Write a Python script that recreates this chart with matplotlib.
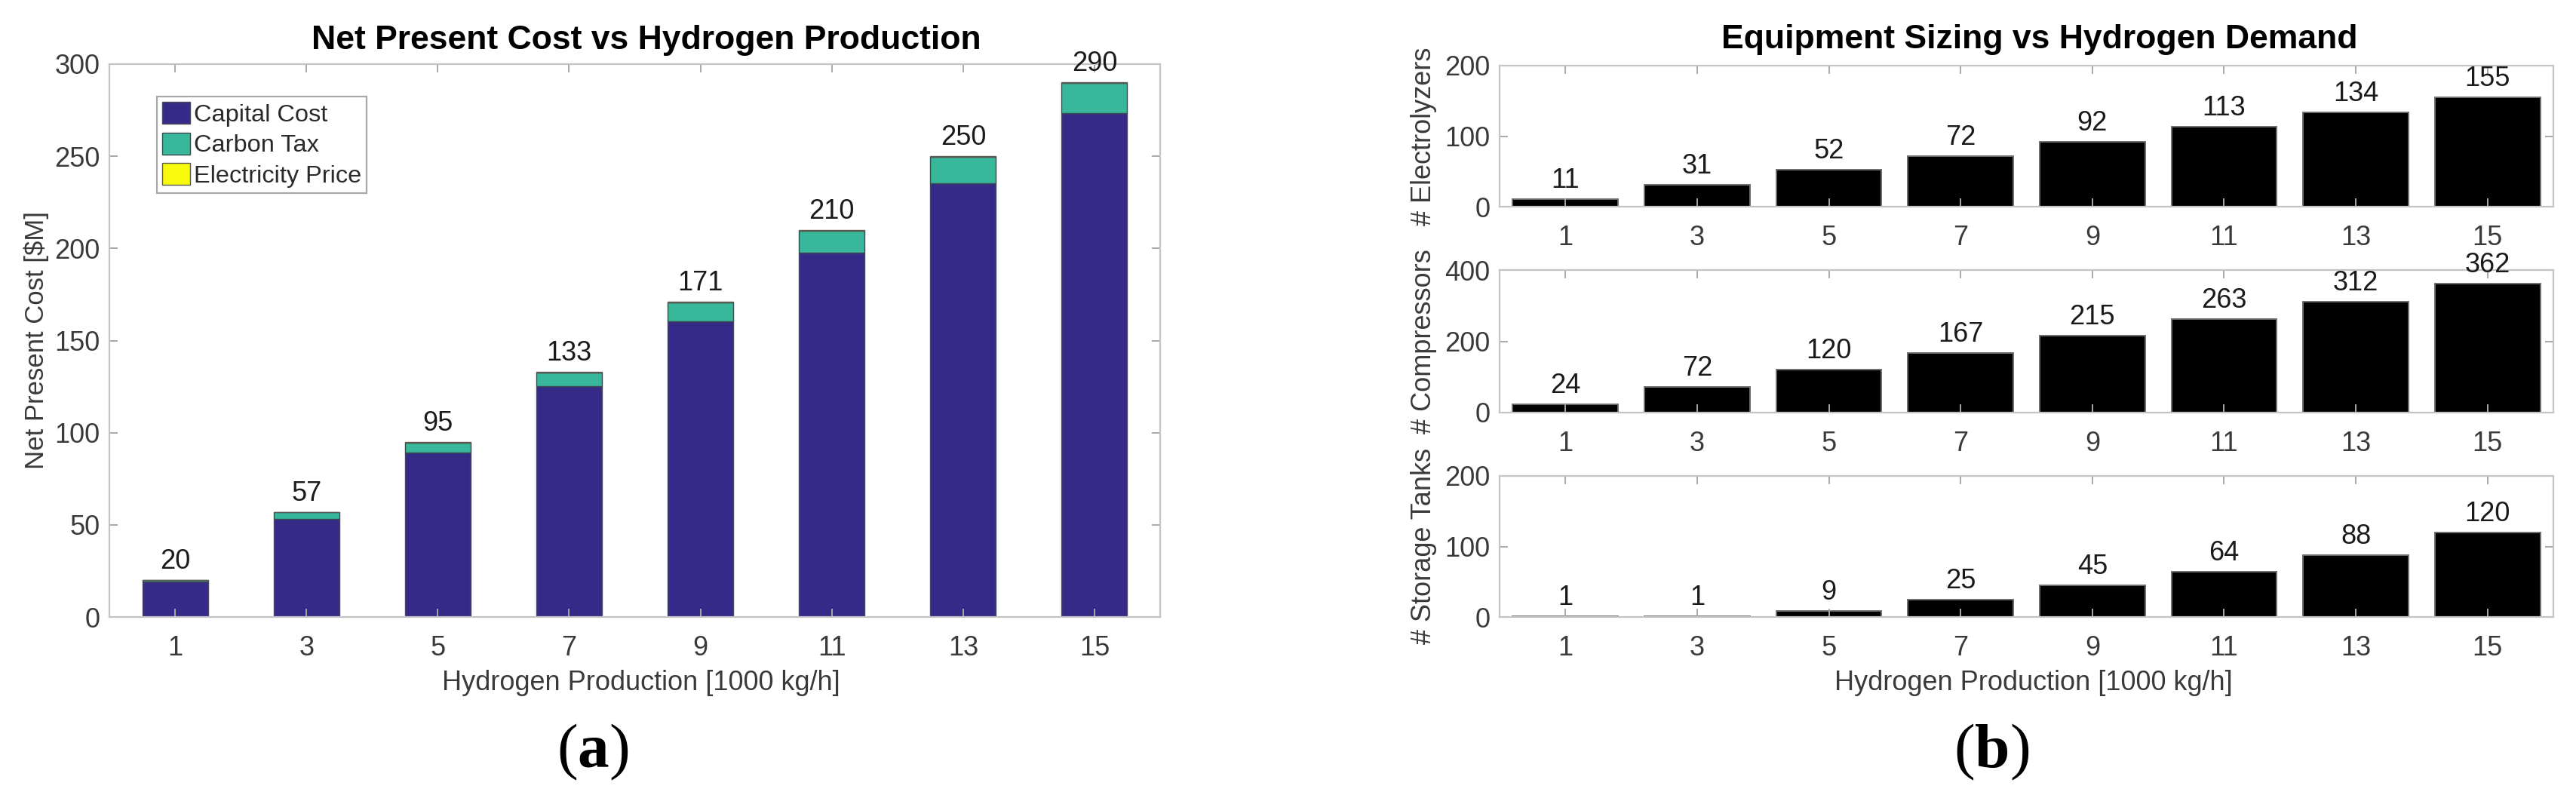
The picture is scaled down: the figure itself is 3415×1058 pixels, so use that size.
import matplotlib
matplotlib.use('Agg')
import matplotlib.pyplot as plt

plt.rcParams['font.family'] = ['Liberation Sans', 'DejaVu Sans']
plt.rcParams['mathtext.fontset'] = 'custom'
plt.rcParams['mathtext.rm'] = 'Liberation Serif'
plt.rcParams['mathtext.bf'] = 'Liberation Serif:bold'

###############
# DATA
###############
production = [1, 3, 5, 7, 9, 11, 13, 15]

# panel (a): stacked net present cost [$M]
capital_cost = [19.2, 53.2, 89.3, 125.2, 160.5, 197.8, 235.3, 273.6]
carbon_tax = [0.8, 3.6, 5.4, 7.5, 10.2, 11.8, 14.4, 16.2]
electricity_price = [0.1, 0.2, 0.3, 0.3, 0.3, 0.4, 0.3, 0.2]
npc_totals = [20, 57, 95, 133, 171, 210, 250, 290]

# panel (b): equipment counts
electrolyzers = [11, 31, 52, 72, 92, 113, 134, 155]
compressors = [24, 72, 120, 167, 215, 263, 312, 362]
storage_tanks = [1, 1, 9, 25, 45, 64, 88, 120]

c_capital = '#352a87'
c_carbon = '#38b79b'
c_elec = '#f9fb0e'
box_col = '#c4c4c4'
txt_col = '#3a3a3a'
FS = 26

W, H = 3415, 1058
fig = plt.figure(figsize=(W / 100, H / 100), dpi=100)


def px_axes(left, right, top, bottom):
    return fig.add_axes([left / W, 1 - bottom / H, (right - left) / W, (bottom - top) / H])


def style_axes(ax, yticks):
    ax.set_xlim(0, 16)
    ax.set_ylim(yticks[0], yticks[-1])
    ax.set_xticks(production)
    ax.set_yticks(yticks)
    for s in ax.spines.values():
        s.set_color(box_col)
        s.set_linewidth(1.6)
    ax.tick_params(direction='in', length=8, width=1.4, color='#a8a8a8',
                   top=True, right=True, labelsize=FS, labelcolor=txt_col)
    ax.tick_params(axis='x', pad=17)
    ax.tick_params(axis='y', pad=9)


############################
# (a) NET PRESENT COST
############################
ax = px_axes(145, 1538, 85, 818)
b1 = ax.bar(production, capital_cost, width=1.0, color=c_capital,
            edgecolor='#4a4a5a', linewidth=1.0, label='Capital Cost')
bottom2 = [c for c in capital_cost]
b2 = ax.bar(production, carbon_tax, width=1.0, bottom=bottom2, color=c_carbon,
            edgecolor='#3a4a50', linewidth=1.0, label='Carbon Tax')
bottom3 = [c + t for c, t in zip(capital_cost, carbon_tax)]
b3 = ax.bar(production, electricity_price, width=1.0, bottom=bottom3, color=c_elec,
            edgecolor='#5a5a50', linewidth=1.0, label='Electricity Price')
ax.bar_label(b3, labels=[str(v) for v in npc_totals], padding=5, fontsize=FS, color='#1a1a1a')
style_axes(ax, [0, 50, 100, 150, 200, 250, 300])
ax.set_title('Net Present Cost vs Hydrogen Production', fontsize=32, fontweight='bold',
             x=0.511, y=1.027, pad=0, va='baseline')
ax.set_xlabel('Hydrogen Production [1000 kg/h]', fontsize=FS, color=txt_col)
ax.xaxis.set_label_coords(0.506, -0.119)
ax.xaxis.label.set_va('center')
ax.set_ylabel('Net Present Cost [$M]', fontsize=25, color=txt_col)
ax.yaxis.set_label_coords(-0.0696, 0.5)
ax.yaxis.label.set_va('center')
leg = ax.legend(loc='upper left', bbox_to_anchor=(0.0452, 0.9413), borderaxespad=0,
                fontsize=23.4, frameon=True, fancybox=False, framealpha=1,
                handlelength=1.14, handleheight=1.0, handletextpad=0.15,
                borderpad=0.22, labelspacing=0.24)
leg.get_frame().set_edgecolor('#a8a8a8')
leg.get_frame().set_linewidth(1.6)
for t in leg.get_texts():
    t.set_color('#2a2a2a')

############################
# (b) EQUIPMENT SIZING
############################
panels = [
    (87, 274, electrolyzers, [0, 100, 200], '# Electrolyzers'),
    (358, 547, compressors, [0, 200, 400], '# Compressors'),
    (631, 818, storage_tanks, [0, 100, 200], '# Storage Tanks'),
]
axes_b = []
for top, bot, vals, yt, lab in panels:
    a = px_axes(1988, 3385, top, bot)
    bars = a.bar(production, vals, width=1.6, color='black', edgecolor='#6e6e6e', linewidth=1.4)
    a.bar_label(bars, labels=[str(v) for v in vals], padding=5, fontsize=FS, color='#1a1a1a')
    style_axes(a, yt)
    a.set_ylabel(lab, fontsize=FS, color=txt_col)
    a.yaxis.set_label_coords(-0.0716, 0.5)
    a.yaxis.label.set_va('center')
    axes_b.append(a)

axes_b[0].set_title('Equipment Sizing vs Hydrogen Demand', fontsize=32, fontweight='bold',
                    x=0.512, y=1.123, pad=0, va='baseline')
axes_b[2].set_xlabel('Hydrogen Production [1000 kg/h]', fontsize=FS, color=txt_col)
axes_b[2].xaxis.set_label_coords(0.507, -0.47)
axes_b[2].xaxis.label.set_va('center')

# sub-figure letters
fig.text(786 / W, 1 - 997 / H, r'$(\mathbf{a})$', fontsize=60, ha='center', va='center')
fig.text(2640 / W, 1 - 997 / H, r'$(\mathbf{b})$', fontsize=60, ha='center', va='center')

fig.savefig('out.png', dpi=100, facecolor='white')
